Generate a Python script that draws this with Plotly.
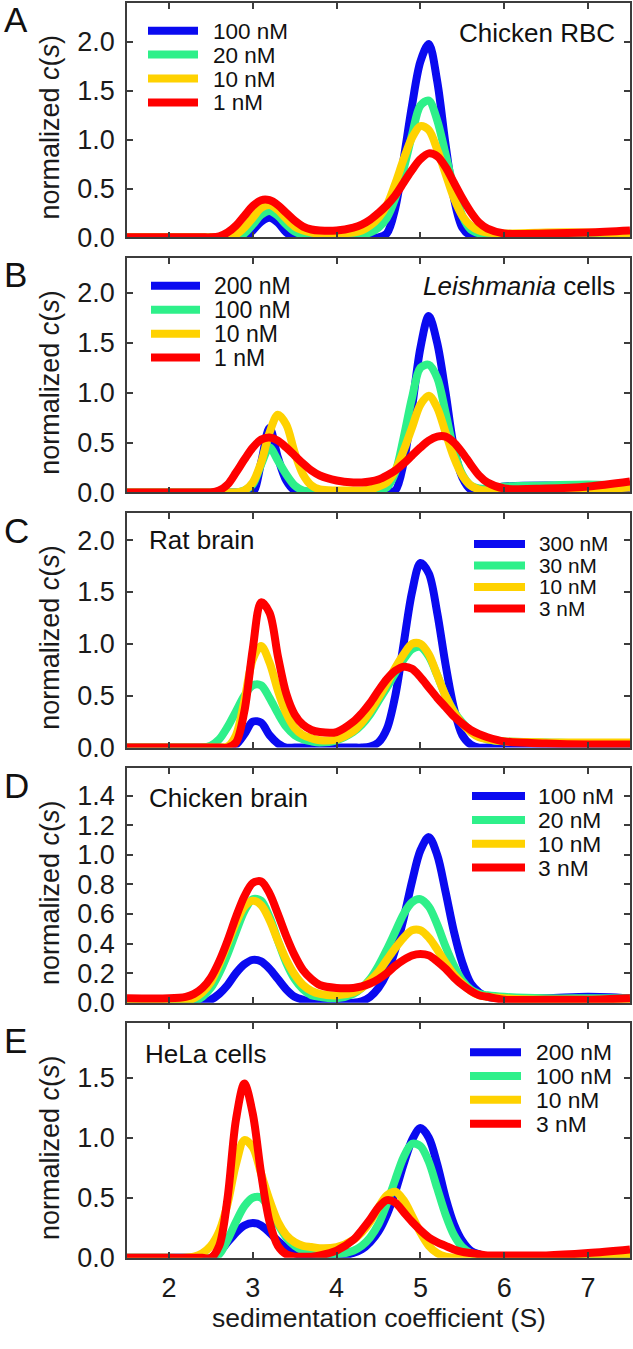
import plotly.graph_objects as go

# ---------------- data ----------------
S_GRID = [1.5, 2.0, 2.2, 2.3, 2.4, 2.5, 2.6, 2.7, 2.8, 2.9, 3.0, 3.1, 3.2, 3.3, 3.4, 3.5, 3.6, 3.7, 3.8, 4.0,
          4.2, 4.3, 4.4, 4.5, 4.6, 4.7, 4.8, 4.9, 5.0, 5.1, 5.2, 5.3, 5.4, 5.5, 5.6, 5.7, 5.8, 6.0, 6.5, 7.0, 7.5]

# Panel A - Chicken RBC
A_LABELS = ["100 nM", "20 nM", "10 nM", "1 nM"]
A_BLUE = [0, 0, 0, 0, 0, 0, 0, 0, 0, 0, 0.07, 0.16, 0.2, 0.15, 0.05, 0, 0, 0, 0, 0,
          0, 0, 0, 0, 0.04, 0.3, 0.8, 1.35, 1.8, 1.98, 1.6, 0.95, 0.4, 0.1, 0.02, 0.02, 0.02, 0.02, 0.03, 0.03, 0.02]
A_GREEN = [0, 0, 0, 0, 0, 0, 0, 0, 0, 0.04, 0.13, 0.23, 0.27, 0.22, 0.13, 0.06, 0.03, 0.02, 0.02, 0.02,
           0.02, 0.03, 0.05, 0.1, 0.2, 0.4, 0.7, 1.05, 1.35, 1.4, 1.2, 0.85, 0.5, 0.22, 0.08, 0.04, 0.03, 0.03, 0.04, 0.04, 0.03]
A_YELLOW = [0, 0, 0, 0, 0, 0, 0, 0, 0.03, 0.1, 0.2, 0.3, 0.33, 0.28, 0.19, 0.11, 0.07, 0.05, 0.04, 0.04,
            0.05, 0.07, 0.12, 0.2, 0.33, 0.55, 0.8, 1.02, 1.14, 1.1, 0.9, 0.65, 0.4, 0.22, 0.12, 0.07, 0.05, 0.04, 0.05, 0.05, 0.04]
A_RED = [0, 0, 0, 0, 0, 0, 0.01, 0.05, 0.12, 0.22, 0.32, 0.38, 0.38, 0.33, 0.25, 0.17, 0.11, 0.08, 0.07, 0.07,
         0.1, 0.13, 0.18, 0.25, 0.33, 0.43, 0.56, 0.69, 0.8, 0.86, 0.83, 0.72, 0.56, 0.4, 0.26, 0.15, 0.09, 0.04, 0.04, 0.05, 0.07]

# Panel B - Leishmania cells
B_LABELS = ["200 nM", "100 nM", "10 nM", "1 nM"]
B_BLUE = [0, 0, 0, 0, 0, 0, 0, 0, 0, 0, 0, 0.3, 0.65, 0.35, 0.12, 0.02, 0, 0, 0, 0,
          0, 0, 0, 0, 0, 0.02, 0.3, 0.85, 1.45, 1.77, 1.5, 1.0, 0.45, 0.15, 0.03, 0.02, 0.03, 0.06, 0.07, 0.06, 0.03]
B_GREEN = [0, 0, 0, 0, 0, 0, 0, 0, 0, 0.02, 0.08, 0.28, 0.45, 0.32, 0.18, 0.07, 0.02, 0.01, 0, 0,
           0, 0, 0, 0.02, 0.05, 0.2, 0.55, 0.95, 1.25, 1.28, 1.15, 0.8, 0.42, 0.18, 0.07, 0.04, 0.04, 0.06, 0.07, 0.08, 0.07]
B_YELLOW = [0, 0, 0, 0, 0, 0, 0, 0, 0, 0.02, 0.1, 0.3, 0.6, 0.78, 0.68, 0.4, 0.18, 0.07, 0.03, 0.02,
            0.02, 0.02, 0.03, 0.06, 0.1, 0.22, 0.42, 0.65, 0.88, 0.97, 0.85, 0.6, 0.35, 0.17, 0.07, 0.03, 0.02, 0.02, 0.03, 0.03, 0.05]
B_RED = [0, 0, 0, 0, 0, 0, 0.02, 0.08, 0.2, 0.33, 0.45, 0.53, 0.55, 0.52, 0.45, 0.37, 0.29, 0.22, 0.17, 0.12,
         0.1, 0.1, 0.11, 0.13, 0.17, 0.22, 0.29, 0.37, 0.45, 0.52, 0.56, 0.56, 0.5, 0.4, 0.28, 0.17, 0.1, 0.04, 0.04, 0.06, 0.11]

# Panel C - Rat brain
C_LABELS = ["300 nM", "30 nM", "10 nM", "3 nM"]
C_BLUE = [0, 0, 0, 0, 0, 0, 0, 0, 0.03, 0.13, 0.25, 0.24, 0.12, 0.04, 0, 0, 0, 0, 0, 0,
          0, 0, 0.01, 0.05, 0.18, 0.5, 1.0, 1.5, 1.78, 1.68, 1.3, 0.8, 0.38, 0.12, 0.03, 0, 0, 0, 0, 0, 0]
C_GREEN = [0, 0, 0, 0, 0, 0.02, 0.08, 0.2, 0.35, 0.5, 0.6, 0.6, 0.48, 0.33, 0.2, 0.12, 0.08, 0.06, 0.05, 0.07,
           0.15, 0.22, 0.32, 0.45, 0.58, 0.72, 0.85, 0.95, 0.97, 0.88, 0.7, 0.5, 0.35, 0.24, 0.16, 0.11, 0.08, 0.06, 0.05, 0.04, 0.04]
C_YELLOW = [0, 0, 0, 0, 0, 0, 0, 0.01, 0.12, 0.45, 0.85, 0.98, 0.82, 0.55, 0.33, 0.19, 0.12, 0.09, 0.07, 0.08,
            0.16, 0.24, 0.35, 0.48, 0.62, 0.77, 0.9, 1.0, 1.0, 0.9, 0.7, 0.5, 0.34, 0.23, 0.15, 0.1, 0.08, 0.06, 0.05, 0.05, 0.05]
C_RED = [0, 0, 0, 0, 0, 0, 0, 0, 0.05, 0.35, 0.95, 1.4, 1.3, 0.88, 0.52, 0.32, 0.22, 0.17, 0.15, 0.15,
         0.25, 0.33, 0.43, 0.55, 0.66, 0.74, 0.78, 0.76, 0.68, 0.58, 0.48, 0.39, 0.3, 0.23, 0.17, 0.13, 0.1, 0.06, 0.04, 0.03, 0.03]

# Panel D - Chicken brain
D_LABELS = ["100 nM", "20 nM", "10 nM", "3 nM"]
D_BLUE = [0, 0, 0, 0, 0, 0.02, 0.06, 0.12, 0.2, 0.26, 0.29, 0.28, 0.23, 0.16, 0.09, 0.04, 0.02, 0.01, 0, 0,
          0, 0.01, 0.04, 0.1, 0.2, 0.36, 0.57, 0.82, 1.03, 1.12, 1.0, 0.75, 0.48, 0.27, 0.13, 0.07, 0.04, 0.03, 0.03, 0.04, 0.03]
D_GREEN = [0, 0, 0, 0.01, 0.04, 0.1, 0.2, 0.33, 0.48, 0.62, 0.7, 0.69, 0.58, 0.42, 0.27, 0.16, 0.09, 0.05, 0.04, 0.03,
           0.06, 0.1, 0.16, 0.25, 0.36, 0.48, 0.6, 0.68, 0.7, 0.65, 0.53, 0.38, 0.25, 0.15, 0.09, 0.06, 0.05, 0.04, 0.03, 0.03, 0.03]
D_YELLOW = [0.01, 0.01, 0.01, 0.03, 0.07, 0.14, 0.26, 0.4, 0.54, 0.65, 0.69, 0.66, 0.56, 0.42, 0.29, 0.19, 0.12, 0.08, 0.06, 0.05,
            0.07, 0.1, 0.15, 0.21, 0.29, 0.37, 0.44, 0.49, 0.49, 0.44, 0.36, 0.27, 0.19, 0.13, 0.08, 0.05, 0.04, 0.03, 0.02, 0.02, 0.02]
D_RED = [0.03, 0.03, 0.04, 0.06, 0.1, 0.17, 0.28, 0.42, 0.58, 0.72, 0.81, 0.82, 0.74, 0.6, 0.45, 0.32, 0.22, 0.16, 0.12, 0.1,
         0.1, 0.11, 0.13, 0.16, 0.2, 0.25, 0.29, 0.32, 0.33, 0.32, 0.28, 0.23, 0.17, 0.12, 0.08, 0.05, 0.04, 0.02, 0.02, 0.02, 0.03]

# Panel E - HeLa cells
E_LABELS = ["200 nM", "100 nM", "10 nM", "3 nM"]
E_BLUE = [0, 0, 0, 0, 0, 0, 0.05, 0.13, 0.21, 0.27, 0.29, 0.27, 0.21, 0.14, 0.08, 0.04, 0.02, 0.01, 0.01, 0.01,
          0.04, 0.07, 0.13, 0.22, 0.36, 0.55, 0.78, 0.98, 1.08, 1.0, 0.78, 0.5, 0.28, 0.14, 0.06, 0.03, 0.01, 0, 0, 0, 0]
E_GREEN = [0, 0, 0, 0, 0, 0, 0.03, 0.15, 0.3, 0.43, 0.5, 0.5, 0.4, 0.28, 0.17, 0.1, 0.06, 0.04, 0.03, 0.03,
           0.06, 0.1, 0.17, 0.28, 0.45, 0.65, 0.84, 0.95, 0.93, 0.8, 0.58, 0.36, 0.19, 0.09, 0.04, 0.02, 0.01, 0, 0, 0, 0]
E_YELLOW = [0, 0, 0, 0.01, 0.04, 0.1, 0.22, 0.45, 0.78, 0.98, 0.92, 0.7, 0.48, 0.3, 0.19, 0.13, 0.1, 0.09, 0.08, 0.09,
            0.15, 0.21, 0.3, 0.42, 0.52, 0.55, 0.48, 0.35, 0.21, 0.1, 0.04, 0.01, 0, 0, 0, 0, 0, 0, 0, 0.01, 0.02]
E_RED = [0, 0, 0, 0, 0, 0, 0.1, 0.5, 1.15, 1.45, 1.2, 0.7, 0.3, 0.1, 0.03, 0.01, 0.01, 0.01, 0.02, 0.06,
         0.15, 0.23, 0.32, 0.42, 0.48, 0.46, 0.38, 0.3, 0.23, 0.17, 0.13, 0.1, 0.07, 0.05, 0.04, 0.03, 0.02, 0.02, 0.02, 0.04, 0.07]

PANEL_LETTERS = ["A", "B", "C", "D", "E"]
PANEL_TITLES = ["Chicken RBC", "<i>Leishmania</i> cells", "Rat brain", "Chicken brain", "HeLa cells"]
Y_MAX = [2.4, 2.35, 2.26, 1.585, 1.95]
Y_DTICK = [0.5, 0.5, 0.5, 0.2, 0.5]
Y_TICKMAX = [2.0, 2.0, 2.0, 1.4, 1.5]
X_TICKS = [2, 3, 4, 5, 6, 7]

COLORS = ["#0a0af0", "#2ef08a", "#ffd200", "#ff0000"]

PANELS = [
    (A_LABELS, [A_BLUE, A_GREEN, A_YELLOW, A_RED]),
    (B_LABELS, [B_BLUE, B_GREEN, B_YELLOW, B_RED]),
    (C_LABELS, [C_BLUE, C_GREEN, C_YELLOW, C_RED]),
    (D_LABELS, [D_BLUE, D_GREEN, D_YELLOW, D_RED]),
    (E_LABELS, [E_BLUE, E_GREEN, E_YELLOW, E_RED]),
]

# ---------------- layout geometry (pixels) ----------------
W, H = 633, 1349
PLOT_L, PLOT_R = 127, 630
PANEL_TOPS = [3, 261, 519, 777, 1035]
PANEL_H = 237
# legend placement: (line x0, line x1, text x, first row y, row step, font size)
LEGEND_POS = [(148, 198, 212, 31, 24.2, 22.5), (151, 200, 213, 289, 24.2, 23), (474, 525, 538, 550, 21.8, 20.8),
              (472, 525, 537, 805, 24.1, 22.8), (470, 521, 535, 1064, 24.1, 22.8)]
TITLE_POS = [(617, 33, "right"), (617, 289, "right"), (147, 546, "left"), (147, 807, "left"), (143, 1066, "left")]

FONT = "Liberation Sans, Arial, sans-serif"
AXIS_COLOR = "#3c3c3c"


def px(x):
    return x / W


def py(y):
    return 1 - y / H


fig = go.Figure()
shapes = []
annotations = []

for i, (labels, series) in enumerate(PANELS):
    n = i + 1
    xa = "x" if n == 1 else f"x{n}"
    ya = "y" if n == 1 else f"y{n}"
    for lab, ys, col in zip(labels, series, COLORS):
        fig.add_trace(go.Scatter(x=S_GRID, y=ys, mode="lines", name=lab, showlegend=False,
                                 line=dict(color=col, width=8, shape="spline", smoothing=0.9),
                                 xaxis=xa, yaxis=ya, hoverinfo="skip"))
    top = PANEL_TOPS[i]
    ydom = [py(top + PANEL_H), py(top)]
    last = (i == len(PANELS) - 1)
    axis_common = dict(showline=True, linecolor=AXIS_COLOR, linewidth=1.5, mirror="ticks",
                       ticks="inside", ticklen=6, tickwidth=1.5, tickcolor=AXIS_COLOR,
                       showgrid=False, zeroline=False,
                       tickfont=dict(family=FONT, size=27, color="#1a1a1a"))
    xkey = "xaxis" if n == 1 else f"xaxis{n}"
    ykey = "yaxis" if n == 1 else f"yaxis{n}"
    fig.update_layout(**{
        xkey: dict(axis_common, domain=[px(PLOT_L), px(PLOT_R)], range=[1.5, 7.5],
                   tickvals=X_TICKS, showticklabels=last, anchor=ya, ticklabelstandoff=5),
        ykey: dict(axis_common, domain=ydom, range=[0, Y_MAX[i]],
                   tickvals=[round(k * Y_DTICK[i], 2) for k in range(int(round(Y_TICKMAX[i] / Y_DTICK[i])) + 1)],
                   tickformat=".1f", anchor=xa, ticklabelstandoff=5),
    })
    # panel letter
    annotations.append(dict(text=PANEL_LETTERS[i], x=px(2), y=py(top + 17), xref="paper", yref="paper",
                            xanchor="left", yanchor="middle", showarrow=False,
                            font=dict(family=FONT, size=35, color="#111")))
    # y axis title
    annotations.append(dict(text="normalized <i>c</i>(<i>s</i>)", x=px(50), y=py(top + 126), xref="paper",
                            yref="paper", xanchor="center", yanchor="middle", showarrow=False, textangle=-90,
                            font=dict(family=FONT, size=27, color="#1a1a1a")))
    # panel title
    tx, ty, anc = TITLE_POS[i]
    annotations.append(dict(text=PANEL_TITLES[i], x=px(tx), y=py(ty), xref="paper", yref="paper",
                            xanchor=anc, yanchor="middle", showarrow=False,
                            font=dict(family=FONT, size=26, color="#111")))
    # legend
    lx0, lx1, ltx, ly0, lstep, lfs = LEGEND_POS[i]
    for k, (lab, col) in enumerate(zip(labels, COLORS)):
        yy = ly0 + k * lstep
        shapes.append(dict(type="line", xref="paper", yref="paper", x0=px(lx0), x1=px(lx1),
                           y0=py(yy), y1=py(yy), line=dict(color=col, width=8)))
        annotations.append(dict(text=lab, x=px(ltx), y=py(yy), xref="paper", yref="paper",
                                xanchor="left", yanchor="middle", showarrow=False,
                                height=int(lstep) - 2, borderpad=0,
                                font=dict(family=FONT, size=lfs, color="#111")))

annotations.append(dict(text="sedimentation coefficient (S)", x=px((PLOT_L + PLOT_R) / 2), y=py(1333),
                        xref="paper", yref="paper", xanchor="center", yanchor="middle", showarrow=False,
                        font=dict(family=FONT, size=26.5, color="#1a1a1a")))

fig.update_layout(width=W, height=H, margin=dict(l=0, r=0, t=0, b=0),
                  paper_bgcolor="white", plot_bgcolor="white",
                  shapes=shapes, annotations=annotations, showlegend=False)

fig.write_html("out.html", config={"displayModeBar": False},
               post_script="document.body.style.margin='0';")
